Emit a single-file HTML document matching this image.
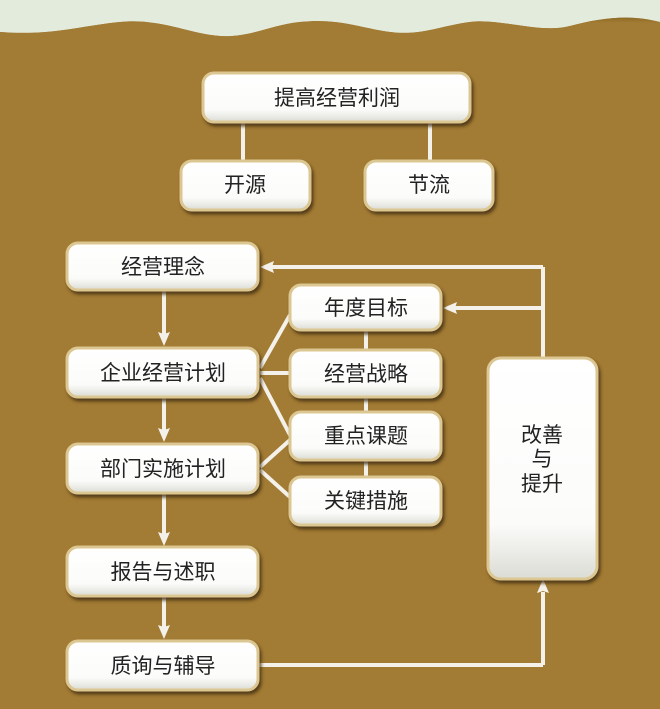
<!DOCTYPE html>
<html><head><meta charset="utf-8"><style>
html,body{margin:0;padding:0}
body{width:660px;height:704px;overflow:hidden;background:#a27b34;font-family:"Liberation Sans","Noto Sans CJK SC",sans-serif}
</style></head><body>
<svg width="660" height="704" viewBox="0 0 660 704" xmlns="http://www.w3.org/2000/svg">
<defs>
<linearGradient id="bg" x1="0" y1="0" x2="0" y2="1"><stop offset="0" stop-color="#8e6b26"/><stop offset="0.12" stop-color="#a27b34"/><stop offset="1" stop-color="#a27b34"/></linearGradient>
<linearGradient id="bx" x1="0" y1="0" x2="0" y2="1"><stop offset="0" stop-color="#ffffff"/><stop offset="0.75" stop-color="#fbfbf9"/><stop offset="1" stop-color="#dcdcd6"/></linearGradient>
<filter id="sh" x="-10%" y="-20%" width="130%" height="150%"><feDropShadow dx="2" dy="3" stdDeviation="1.5" flood-color="#3d2a08" flood-opacity="0.8"/></filter>
</defs>
<rect width="660" height="704" fill="#a27b34"/>
<path d="M0 0 H660 V22 C630 14 600 18 570 26 C540 34 500 18 470 22 C440 26 420 36 390 32 C360 28 340 18 300 22 C270 25 250 38 220 36 C190 34 160 18 120 22 C80 26 50 36 0 32 Z" fill="#e3ebdd"/>
<path d="M0 32 C50 36 80 26 120 22 C160 18 190 34 220 36 C250 38 270 25 300 22 C340 18 360 28 390 32 C420 36 440 26 470 22 C500 18 540 34 570 26 C600 18 630 14 660 22 V60 H0 Z" fill="url(#bg)"/>
<g stroke="#f4f1ea" stroke-width="4" fill="none">
<line x1="243" y1="120" x2="243" y2="162"/><line x1="430" y1="120" x2="430" y2="162"/>
<line x1="543" y1="267" x2="543" y2="358"/><line x1="270" y1="267" x2="543" y2="267"/>
<line x1="455" y1="308" x2="543" y2="308"/>
<line x1="258" y1="665" x2="543" y2="665"/><line x1="543" y1="665" x2="543" y2="592"/>
<line x1="164" y1="290" x2="164" y2="340"/><line x1="164" y1="397" x2="164" y2="436"/><line x1="164" y1="493" x2="164" y2="540"/><line x1="164" y1="596" x2="164" y2="633"/>
<line x1="366" y1="330" x2="366" y2="350"/><line x1="366" y1="397" x2="366" y2="412"/><line x1="366" y1="460" x2="366" y2="477"/>
<path d="M260 368 L290 315 M260 373 H292 M260 378 L290 435 M260 467 L290 440 M260 470 L290 497"/>
</g>
<g fill="#f4f1ea">
<path d="M260 267 L274 261 L272 267 L274 273 Z"/>
<path d="M443 308 L457 302 L455 308 L457 314 Z"/>
<path d="M543 579 L537 593 L543 591 L549 593 Z"/>
<path d="M164 346 L158 332 L164 334 L170 332 Z"/>
<path d="M164 442 L158 428 L164 430 L170 428 Z"/>
<path d="M164 546 L158 532 L164 534 L170 532 Z"/>
<path d="M164 639 L158 625 L164 627 L170 625 Z"/>
</g>
<g filter="url(#sh)" fill="url(#bx)" stroke="#dcc792" stroke-width="3">
<rect x="203" y="73" width="267" height="49" rx="11"/>
<rect x="181" y="161" width="129" height="49" rx="11"/>
<rect x="365" y="161" width="128" height="49" rx="11"/>
<rect x="67" y="243" width="191" height="47" rx="11"/>
<rect x="67" y="348" width="191" height="49" rx="11"/>
<rect x="67" y="444" width="191" height="49" rx="11"/>
<rect x="67" y="547" width="191" height="49" rx="11"/>
<rect x="67" y="641" width="191" height="49" rx="11"/>
<rect x="290" y="285" width="151" height="45" rx="11"/>
<rect x="290" y="350" width="151" height="47" rx="11"/>
<rect x="290" y="412" width="151" height="48" rx="11"/>
<rect x="290" y="477" width="151" height="48" rx="11"/>
<rect x="488" y="358" width="109" height="221" rx="13"/>
</g>
<g font-family="Liberation Sans, Noto Sans CJK SC, sans-serif" font-size="21" fill="#222" text-anchor="middle">
<text x="337" y="105">提高经营利润</text>
<text x="245" y="192">开源</text>
<text x="429" y="192">节流</text>
<text x="163" y="274">经营理念</text>
<text x="163" y="380">企业经营计划</text>
<text x="163" y="476">部门实施计划</text>
<text x="163" y="579">报告与述职</text>
<text x="163" y="673">质询与辅导</text>
<text x="366" y="315">年度目标</text>
<text x="366" y="381">经营战略</text>
<text x="366" y="443">重点课题</text>
<text x="366" y="508">关键措施</text>
<text x="542" y="442">改善</text>
<text x="542" y="466">与</text>
<text x="542" y="491">提升</text>
</g>
</svg>
</body></html>
